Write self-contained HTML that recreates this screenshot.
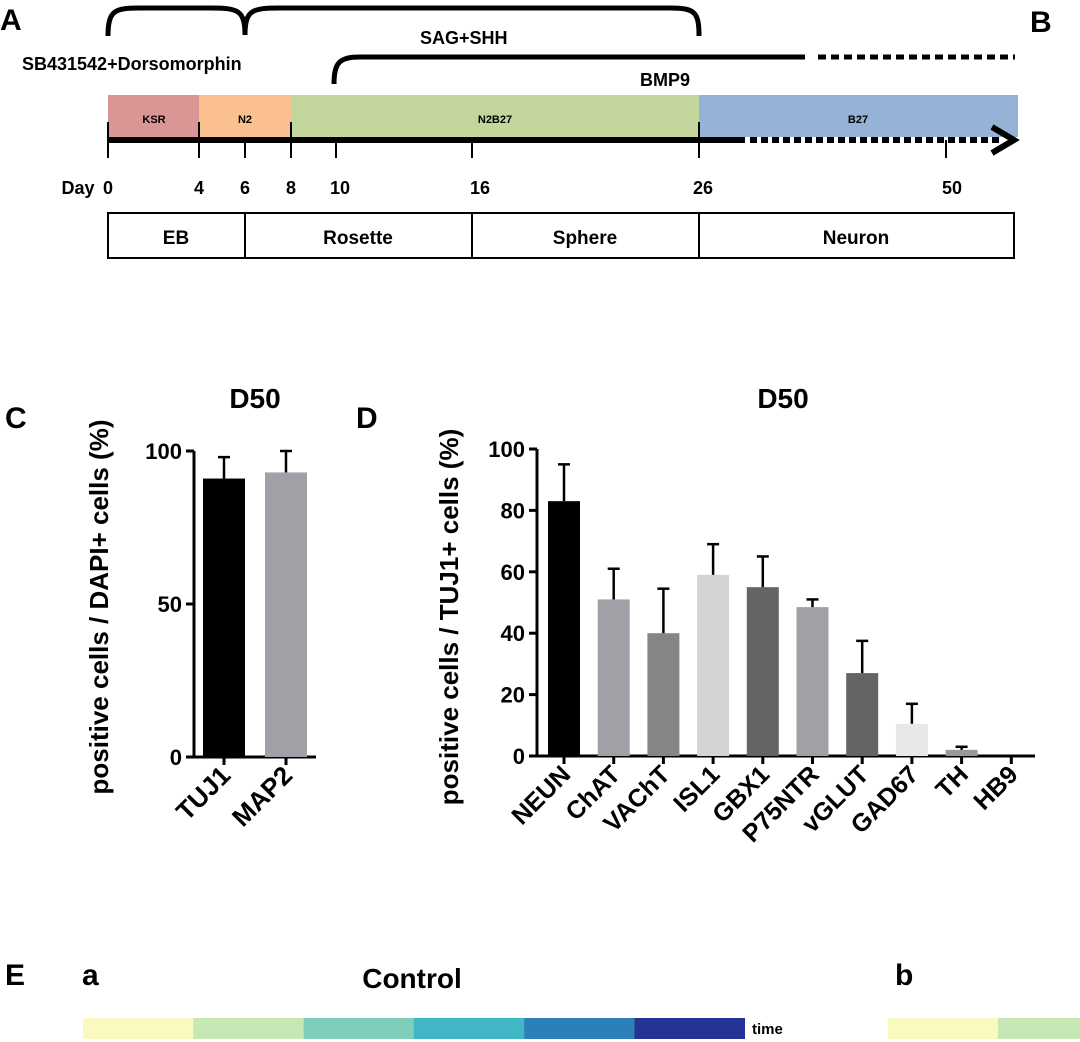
<!DOCTYPE html>
<html><head><meta charset="utf-8"><style>
body{margin:0;background:#fff;}
svg{display:block;font-family:"Liberation Sans",Arial,sans-serif;}
</style></head><body>
<svg id="fig" width="1080" height="1042" viewBox="0 0 1080 1042">
<!-- Panel A -->
<g font-weight="bold">
<text x="0" y="30" font-size="30">A</text>
<text x="1030" y="32" font-size="30">B</text>
<path d="M108,36 C108,10 115,8 140,8 L210,8 C238,8 245,10 245,35" fill="none" stroke="#000" stroke-width="5"/>
<path d="M245,35 C245,10 252,8 280,8 L670,8 C695,8 699,12 699,36" fill="none" stroke="#000" stroke-width="5"/>
<text x="420" y="44" font-size="18">SAG+SHH</text>
<text x="22" y="70" font-size="18">SB431542+Dorsomorphin</text>
<path d="M334,84 C334,62 340,57 360,57 L805,57" fill="none" stroke="#000" stroke-width="5"/>
<line x1="818" y1="57" x2="1015" y2="57" stroke="#000" stroke-width="5" stroke-dasharray="8,5"/>
<text x="640" y="86" font-size="18">BMP9</text>
<rect x="108" y="95" width="91" height="42" fill="#d99694"/>
<rect x="199" y="95" width="92" height="42" fill="#fac090"/>
<rect x="291" y="95" width="408" height="42" fill="#c3d69b"/>
<rect x="699" y="95" width="319" height="42" fill="#95b3d7"/>
<g font-size="11" text-anchor="middle"><text x="154" y="123">KSR</text><text x="245" y="123">N2</text><text x="495" y="123">N2B27</text><text x="858" y="123">B27</text></g>
<line x1="108" y1="140" x2="745" y2="140" stroke="#000" stroke-width="6"/>
<line x1="750" y1="140" x2="1002" y2="140" stroke="#000" stroke-width="6" stroke-dasharray="7,4"/>
<path d="M992,127 L1014,140 L992,153" fill="none" stroke="#000" stroke-width="6"/>
<g stroke="#000" stroke-width="2">
<line x1="108" y1="122" x2="108" y2="158"/><line x1="199" y1="122" x2="199" y2="158"/><line x1="245" y1="140" x2="245" y2="158"/><line x1="291" y1="122" x2="291" y2="158"/><line x1="336" y1="140" x2="336" y2="158"/><line x1="472" y1="140" x2="472" y2="158"/><line x1="699" y1="122" x2="699" y2="158"/><line x1="946" y1="140" x2="946" y2="158"/>
</g>
<g font-size="18" text-anchor="middle">
<text x="78" y="194">Day</text><text x="108" y="194">0</text><text x="199" y="194">4</text><text x="245" y="194">6</text><text x="291" y="194">8</text><text x="340" y="194">10</text><text x="480" y="194">16</text><text x="703" y="194">26</text><text x="952" y="194">50</text>
</g>
<g fill="#fff" stroke="#000" stroke-width="2">
<rect x="108" y="213" width="137" height="45"/>
<rect x="245" y="213" width="227" height="45"/>
<rect x="472" y="213" width="227" height="45"/>
<rect x="699" y="213" width="315" height="45"/>
</g>
<g font-size="19" text-anchor="middle"><text x="176" y="244">EB</text><text x="358" y="244">Rosette</text><text x="585" y="244">Sphere</text><text x="856" y="244">Neuron</text></g>
</g>
<!-- Panel C -->
<g id="chartC" font-weight="bold">
<text x="5" y="428" font-size="30">C</text>
<text x="255" y="408" font-size="28" text-anchor="middle">D50</text>
<text transform="translate(108,607) rotate(-90)" font-size="26" text-anchor="middle">positive cells / DAPI+ cells (%)</text>
</g>
<!-- Panel D -->
<g id="chartD" font-weight="bold">
<text x="356" y="428" font-size="30">D</text>
<text x="783" y="408" font-size="28" text-anchor="middle">D50</text>
<text transform="translate(458,617) rotate(-90)" font-size="26" text-anchor="middle">positive cells / TUJ1+ cells (%)</text>
</g>
<!-- Panel E -->
<g font-weight="bold">
<text x="5" y="985" font-size="30">E</text>
<text x="82" y="985" font-size="30">a</text>
<text x="412" y="988" font-size="28" text-anchor="middle">Control</text>
<text x="895" y="985" font-size="30">b</text>
<g id="strip"></g>
<text x="752" y="1034" font-size="15">time</text>
</g>
</svg>
<script>
const NS="http://www.w3.org/2000/svg";
function mk(p,t,a){const e=document.createElementNS(NS,t);for(const k in a)e.setAttribute(k,a[k]);p.appendChild(e);return e;}

// Chart C data
const cCats=["TUJ1","MAP2"];
const cVals=[91,93];
const cErr=[98,100];
const cTicks=[0,50,100];
const cColors=["#000000","#a0a0a6"];
// Chart D data
const dCats=["NEUN","ChAT","VAChT","ISL1","GBX1","P75NTR","vGLUT","GAD67","TH","HB9"];
const dVals=[83,51,40,59,55,48.5,27,10.5,2,0];
const dErr=[95,61,54.5,69,65,51,37.5,17,3,0];
const dTicks=[0,20,40,60,80,100];
const dColors=["#000000","#a0a0a6","#858585","#d4d4d4","#646464","#a0a0a6","#646464","#e8e8e8","#999999","#999999"];
// Heat strip
const stripColors=["#fafac0","#c5e8b4","#7fcdbb","#41b6c4","#2c7fb8","#253494"];
const stripColorsB=["#fafac0","#c5e8b4"];

function drawBars(g,cats,vals,errs,ticks,colors,o){
  const y=v=>o.y0-(v/100)*(o.y0-o.y100);
  const x=i=>o.x0+i*o.step;
  mk(g,'line',{x1:o.ax,y1:o.y100,x2:o.ax,y2:o.y0+1,stroke:'#000','stroke-width':3});
  mk(g,'line',{x1:o.ax-8,y1:o.y0,x2:o.xend,y2:o.y0,stroke:'#000','stroke-width':3});
  ticks.forEach(t=>{
    mk(g,'line',{x1:o.ax-8,y1:y(t),x2:o.ax,y2:y(t),stroke:'#000','stroke-width':3});
    const tx=mk(g,'text',{x:o.ax-12,y:y(t)+8,'font-size':22,'text-anchor':'end'});tx.textContent=t;
  });
  cats.forEach((c,i)=>{
    const cx=x(i);
    const r=mk(g,'rect',{x:cx-o.bw/2,y:y(vals[i]),width:o.bw,height:Math.max(0,o.y0-y(vals[i])),fill:colors[i]});
    
    
    if(errs[i]>vals[i]){
      mk(g,'line',{x1:cx,y1:y(errs[i]),x2:cx,y2:y(vals[i]),stroke:'#000','stroke-width':2.5});
      mk(g,'line',{x1:cx-6,y1:y(errs[i]),x2:cx+6,y2:y(errs[i]),stroke:'#000','stroke-width':2.5});
    }
    mk(g,'line',{x1:cx,y1:o.y0,x2:cx,y2:o.y0+8,stroke:'#000','stroke-width':3});
    const t=mk(g,'text',{transform:`translate(${cx+8},${o.y0+20}) rotate(-45)`,'font-size':o.fs,'text-anchor':'end'});
    t.textContent=c;
    
    
  });
}
drawBars(document.getElementById('chartC'),cCats,cVals,cErr,cTicks,cColors,{ax:194,y0:757,y100:451,x0:224,step:62,bw:42,xend:316,fs:26});
drawBars(document.getElementById('chartD'),dCats,dVals,dErr,dTicks,dColors,{ax:537,y0:756,y100:449,x0:564,step:49.7,bw:32,xend:1035,fs:25});

const sg=document.getElementById('strip');
stripColors.forEach((c,i)=>{
  const r=mk(sg,'rect',{x:83+i*110.3,y:1018,width:110.5,height:21,fill:c});
  
  
});
stripColorsB.forEach((c,i)=>{
  const r=mk(sg,'rect',{x:888+i*110,y:1018,width:110.5,height:21,fill:c});
  
  
});
</script>
</body></html>
